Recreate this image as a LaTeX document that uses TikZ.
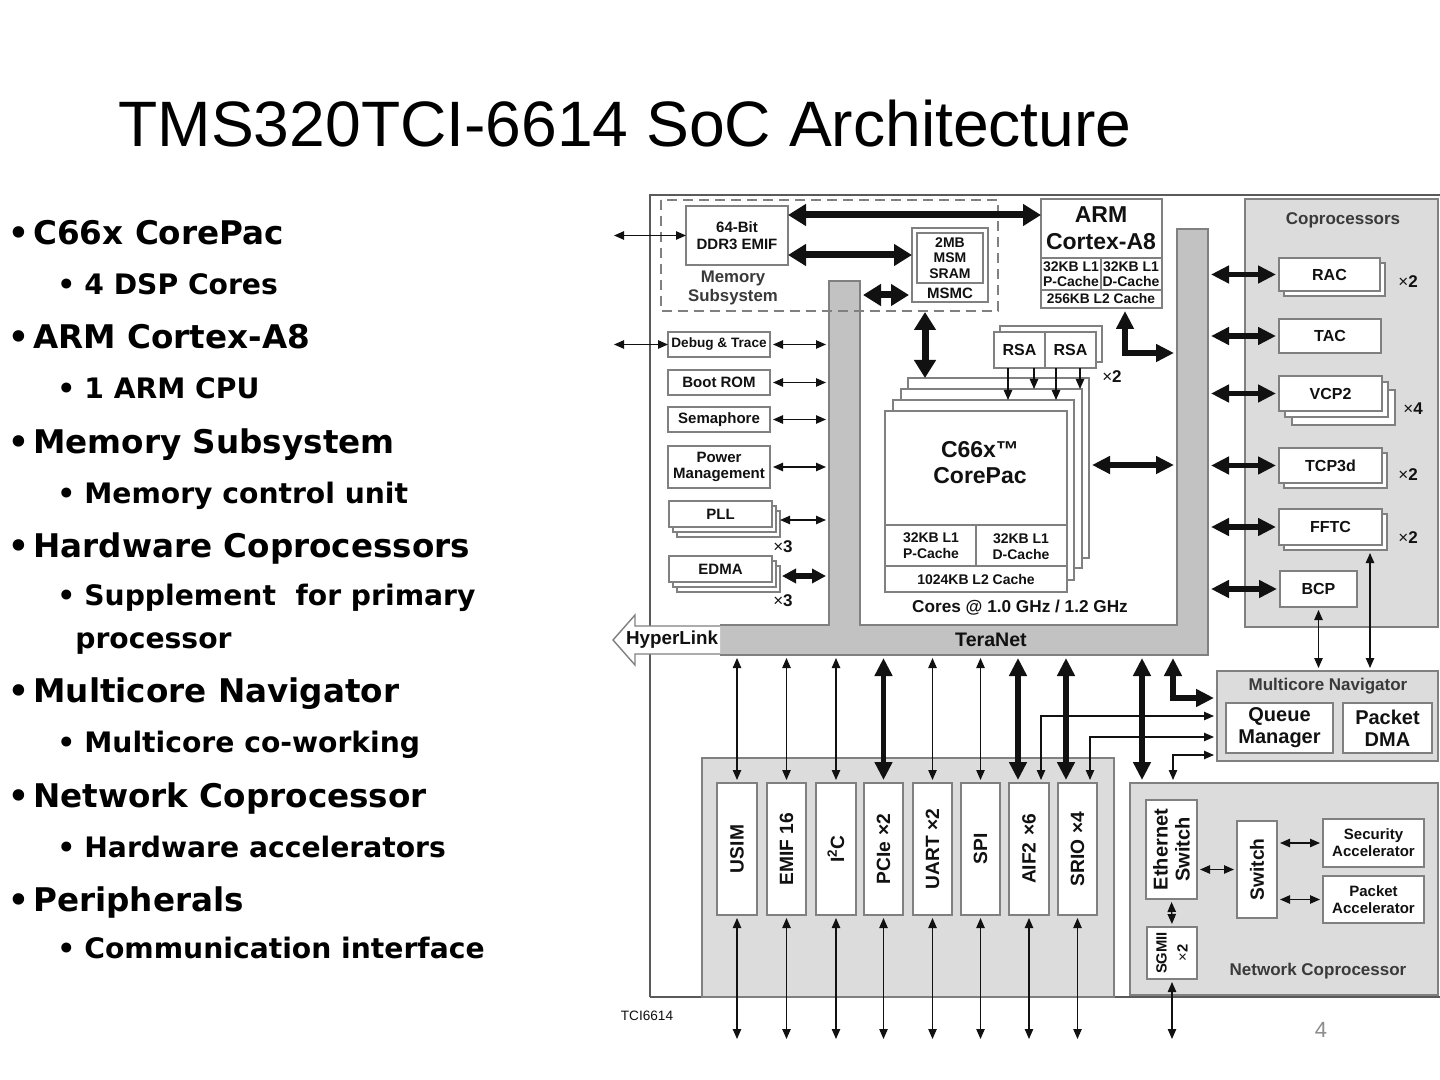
\documentclass[tikz,border=0pt]{standalone}
\usepackage{fontspec}
\setmainfont{Liberation Sans}
\setsansfont{Liberation Sans}
\newfontfamily\bulletfont{DejaVu Sans}
\usetikzlibrary{arrows.meta}
\definecolor{panel}{HTML}{DCDCDC}
\definecolor{tnet}{HTML}{C2C2C2}
\definecolor{edge}{HTML}{808080}
\definecolor{frame}{HTML}{5A5A5A}
\definecolor{ink}{HTML}{111111}
\definecolor{plab}{HTML}{3A3A3A}
\definecolor{pnum}{HTML}{8C8C8C}
\newcommand\fsz[2]{\fontsize{#1}{#2}\selectfont}
\newcommand\bxx[7][]{\node[box,minimum width={(#4-#2)*0.5pt},minimum height={(#5-#3)*0.5pt},#1] (#6) at ({(#2+#4)/2},{(#3+#5)/2}) {#7};}
\newcommand\shd[4]{\draw[shadowbox] (#1,#2) rectangle (#3,#4);}
\tikzset{
 box/.style={draw=edge,fill=white,line width=0.6pt,inner sep=0pt,outer sep=0pt,align=center,text=ink,font=\sffamily\bfseries\fsz{7.5}{8.5}},
 shadowbox/.style={draw=edge,fill=white,line width=0.6pt},
 pbox/.style={draw=edge,fill=panel,line width=0.7pt},
 lab/.style={inner sep=0pt,align=center,text=ink,font=\sffamily\bfseries\fsz{7.5}{8.5}},
 plabel/.style={inner sep=0pt,align=center,text=plab,font=\sffamily\bfseries\fsz{8.5}{9.5}},
 mult/.style={inner sep=0pt,text=ink,font=\sffamily\bfseries\fsz{8.5}{10}},
 rot/.style={inner sep=0pt,align=center,text=ink,rotate=90,font=\sffamily\bfseries\fsz{9.6}{11}},
 tarr/.style={draw=ink,line width=0.6pt,{Triangle[length=5pt,width=4.2pt]}-{Triangle[length=5pt,width=4.2pt]}},
 sarr/.style={draw=ink,line width=0.6pt,-{Triangle[length=5pt,width=4.2pt]}},
 barr/.style={draw=ink,line width=2.6pt,{Triangle[length=9pt,width=8.5pt]}-{Triangle[length=9pt,width=8.5pt]}},
 harr/.style={draw=ink,line width=3.5pt,{Triangle[length=9pt,width=10.5pt]}-{Triangle[length=9pt,width=10.5pt]}},
 gap/.style={shorten <=1.5pt,shorten >=1.5pt},
 lone/.style={anchor=base west,inner sep=0pt,text=black,font=\bulletfont\bfseries\fsz{16.3}{19}},
 ltwo/.style={anchor=base west,inner sep=0pt,text=black,font=\bulletfont\bfseries\fsz{14.1}{17}},
}
\begin{document}
\begin{tikzpicture}[x=0.5pt,y=-0.5pt]
\useasboundingbox (0,0) rectangle (1440,1080);
\fill[white] (0,0) rectangle (1440,1080);
% ---------- title and bullets
\node[anchor=base west,inner sep=0pt,font=\fsz{32.1}{39}] (title) at (118,147) {TMS320TCI-6614 SoC Architecture};
\node[lone] (b1) at (8,245) {\makebox[12.5pt][l]{•}C66x CorePac};
\node[ltwo] (b1a) at (57,295) {\makebox[13.5pt][l]{•}4 DSP Cores};
\node[lone] (b2) at (8,349) {\makebox[12.5pt][l]{•}ARM Cortex-A8};
\node[ltwo] (b2a) at (57,399) {\makebox[13.5pt][l]{•}1 ARM CPU};
\node[lone] (b3) at (8,453) {\makebox[12.5pt][l]{•}Memory Subsystem};
\node[ltwo] (b3a) at (57,503) {\makebox[13.5pt][l]{•}Memory control unit};
\node[lone] (b4) at (8,557) {\makebox[12.5pt][l]{•}Hardware Coprocessors};
\node[ltwo] (b4a) at (57,605) {\makebox[13.5pt][l]{•}Supplement\ \ for primary};
\node[ltwo] (b4b) at (75,648) {processor};
\node[lone] (b5) at (8,702) {\makebox[12.5pt][l]{•}Multicore Navigator};
\node[ltwo] (b5a) at (57,752) {\makebox[13.5pt][l]{•}Multicore co-working};
\node[lone] (b6) at (8,807) {\makebox[12.5pt][l]{•}Network Coprocessor};
\node[ltwo] (b6a) at (57,857) {\makebox[13.5pt][l]{•}Hardware accelerators};
\node[lone] (b7) at (8,911) {\makebox[12.5pt][l]{•}Peripherals};
\node[ltwo] (b7a) at (57,958) {\makebox[13.5pt][l]{•}Communication interface};
% ---------- frame and panels
\draw[frame,line width=0.7pt] (650,997) -- (650,195) -- (1460,195);
\draw[frame,line width=0.7pt] (650,997) -- (1460,997);
\draw[pbox] (1245,199) rectangle (1438,627);
\draw[pbox] (702,758) rectangle (1114,997);
\draw[pbox] (1130,783) rectangle (1438,995);
\node[draw=edge,fill=panel,line width=0.7pt,inner sep=0pt,outer sep=0pt,minimum width={221*0.5pt},minimum height={90*0.5pt}] (mn) at (1327.5,716) {};
\node[plabel] (coplab) at (1343,220) {Coprocessors};
\node[plabel] (mnlab) at (1328,686) {Multicore Navigator};
\node[plabel] (nclab) at (1318,971) {Network Coprocessor};
% ---------- TeraNet
\fill[tnet] (720,625) -- (829,625) -- (829,281) -- (860,281) -- (860,625) -- (1177,625) -- (1177,229) -- (1208,229) -- (1208,655) -- (720,655) -- cycle;
\draw[edge,line width=0.6pt] (720,625) -- (829,625) -- (829,281) -- (860,281) -- (860,625) -- (1177,625) -- (1177,229) -- (1208,229) -- (1208,655) -- (720,655);
\bxx[draw=none,fill=none]{829}{281}{860}{625}{tnL}{}
\bxx[draw=none,fill=none]{720}{625}{1208}{655}{tnB}{}
\bxx[draw=none,fill=none]{1177}{229}{1208}{655}{tnR}{}
\node[lab,font=\sffamily\bfseries\fsz{9.8}{11}] (tnlab) at (991,640) {TeraNet};
\draw[edge,fill=white,line width=0.7pt] (720,626) -- (635,626) -- (635,615) -- (613,640) -- (635,665) -- (635,654) -- (720,654);
\node[lab,font=\sffamily\bfseries\fsz{9.4}{11}] (hyper) at (672,640) {HyperLink};
% ---------- memory subsystem
\draw[edge,line width=0.7pt,dash pattern=on 5pt off 3pt] (661,200) rectangle (998,311);
\bxx{686}{206}{788}{265}{ddr}{64-Bit\\DDR3 EMIF}
\node[plabel,font=\sffamily\bfseries\fsz{8.4}{9.5}] (memlab) at (733,288) {Memory\\Subsystem};
\bxx{912}{228}{988}{302}{msmc}{}
\bxx[font=\sffamily\bfseries\fsz{7}{7.8}]{917}{233}{983}{283}{msm}{2MB\\MSM\\SRAM}
\node[lab] (msmclab) at (950,293) {MSMC};
% ---------- ARM
\bxx{1041}{199}{1162}{308}{arm}{}
\draw[edge,line width=0.6pt] (1041,258) -- (1162,258) (1101,258) -- (1101,290) (1041,290) -- (1162,290);
\node[lab,font=\sffamily\bfseries\fsz{11.5}{13}] (armt) at (1101,215) {ARM};
\node[lab,font=\sffamily\bfseries\fsz{11.5}{13}] (armc) at (1101,242) {Cortex-A8};
\node[lab,font=\sffamily\bfseries\fsz{7}{7.5}] (armp) at (1071,274) {32KB L1\\P-Cache};
\node[lab,font=\sffamily\bfseries\fsz{7}{7.5}] (armd) at (1131,274) {32KB L1\\D-Cache};
\node[lab,font=\sffamily\bfseries\fsz{6.9}{7.5}] (arml2) at (1101,299) {256KB L2 Cache};
% ---------- left column
\bxx[font=\sffamily\bfseries\fsz{6.8}{8}]{668}{332}{770}{357}{dbg}{Debug \& Trace}
\bxx{668}{370}{770}{395}{boot}{Boot ROM}
\bxx{668}{407}{770}{432}{sem}{Semaphore}
\bxx[font=\sffamily\bfseries\fsz{7.5}{8}]{668}{446}{770}{488}{pwr}{Power\\Management}
\shd{677}{511}{780}{537}\shd{673}{506}{776}{532}
\bxx{669}{501}{772}{527}{pll}{PLL}
\shd{677}{566}{780}{592}\shd{673}{561}{776}{587}
\bxx{669}{556}{772}{582}{edma}{EDMA}
\node[mult] (pllx) at (783,547) {{\mdseries ×}3};
\node[mult] (edmx) at (783,601) {{\mdseries ×}3};
% ---------- cores
\shd{1000}{326}{1102}{362}
\bxx[font=\sffamily\bfseries\fsz{8}{9}]{994}{332}{1045}{368}{rsa1}{RSA}
\bxx[font=\sffamily\bfseries\fsz{8}{9}]{1045}{332}{1096}{368}{rsa2}{RSA}
\node[mult] (rsax) at (1112,377) {{\mdseries ×}2};
\bxx{908}{378}{1089}{558}{core4}{}
\bxx{901}{389}{1082}{568}{core3}{}
\bxx{893}{400}{1074}{580}{core2}{}
\bxx{885}{411}{1067}{592}{core}{}
\draw[edge,line width=0.6pt] (885,525) -- (1067,525) (976,525) -- (976,566) (885,566) -- (1067,566);
\node[lab,font=\sffamily\bfseries\fsz{11.5}{13}] (c66) at (980,450) {C66x™};
\node[lab,font=\sffamily\bfseries\fsz{11.5}{13}] (cpac) at (980,476) {CorePac};
\node[lab,font=\sffamily\bfseries\fsz{7}{8}] (cp) at (931,546) {32KB L1\\P-Cache};
\node[lab,font=\sffamily\bfseries\fsz{7}{8}] (cd) at (1021,547) {32KB L1\\D-Cache};
\node[lab,font=\sffamily\bfseries\fsz{7}{8}] (cl2) at (976,579) {1024KB L2 Cache};
\node[lab,font=\sffamily\bfseries\fsz{8.6}{10}] (cores) at (1020,608) {Cores @ 1.0 GHz / 1.2 GHz};
% ---------- coprocessors
\shd{1284}{263}{1385}{296}
\bxx[font=\sffamily\bfseries\fsz{8}{9}]{1279}{258}{1380}{291}{rac}{RAC}
\bxx[font=\sffamily\bfseries\fsz{8}{9}]{1279}{319}{1381}{353}{tac}{TAC}
\shd{1292}{390}{1395}{425}\shd{1285}{382}{1388}{417}
\bxx[font=\sffamily\bfseries\fsz{8}{9}]{1279}{376}{1382}{411}{vcp}{VCP2}
\shd{1284}{453}{1387}{488}
\bxx[font=\sffamily\bfseries\fsz{8}{9}]{1279}{448}{1382}{483}{tcp}{TCP3d}
\shd{1284}{514}{1387}{550}
\bxx[font=\sffamily\bfseries\fsz{8}{9}]{1279}{509}{1382}{545}{fftc}{FFTC}
\bxx[font=\sffamily\bfseries\fsz{8}{9}]{1280}{571}{1357}{607}{bcp}{BCP}
\node[mult] (racx) at (1408,282) {{\mdseries ×}2};
\node[mult] (vcpx) at (1413,409) {{\mdseries ×}4};
\node[mult] (tcpx) at (1408,475) {{\mdseries ×}2};
\node[mult] (ffx) at (1408,538) {{\mdseries ×}2};
% ---------- multicore navigator
\bxx[font=\sffamily\bfseries\fsz{10}{11}]{1226}{703}{1333}{753}{qm}{Queue\\Manager}
\bxx[font=\sffamily\bfseries\fsz{10}{11}]{1343}{703}{1432}{753}{pdma}{Packet\\DMA}
% ---------- peripherals
\bxx{717}{783}{757}{915}{usim}{}
\bxx{767}{783}{806}{915}{emif}{}
\bxx{816}{783}{856}{915}{i2c}{}
\bxx{864}{783}{903}{915}{pcie}{}
\bxx{913}{783}{952}{915}{uart}{}
\bxx{961}{783}{1000}{915}{spi}{}
\bxx{1009}{783}{1049}{915}{aif}{}
\bxx{1058}{783}{1097}{915}{srio}{}
\node[rot] (usimt) at (usim) {USIM};
\node[rot] (emift) at (emif) {EMIF 16};
\node[rot] (i2ct) at (i2c) {I\textsuperscript{2}C};
\node[rot] (pciet) at (pcie) {PCIe\,\,×2};
\node[rot] (uartt) at (uart) {UART ×2};
\node[rot] (spit) at (spi) {SPI};
\node[rot] (aift) at (aif) {AIF2\,\,×6};
\node[rot] (sriot) at (srio) {SRIO\,\,×4};
% ---------- network coprocessor
\bxx{1146}{800}{1197}{899}{eth}{}
\bxx{1147}{927}{1197}{979}{sgmii}{}
\bxx{1237}{821}{1277}{918}{sw}{}
\bxx{1323}{819}{1424}{867}{sec}{Security\\Accelerator}
\bxx{1323}{876}{1424}{923}{pa}{Packet\\Accelerator}
\node[rot,font=\sffamily\bfseries\fsz{10}{11}] (etht) at (eth) {Ethernet\\Switch};
\node[rot,font=\sffamily\bfseries\fsz{7.4}{10.5}] (sgt) at (sgmii) {SGMII\\{\mdseries ×}2};
\node[rot] (swt) at (sw) {Switch};
% ---------- arrows: memory
\coordinate (ddrX) at (614,235.5);
\draw[tarr] (ddrX) -- (ddr.west);
\coordinate (ddrT) at (788,215);
\draw[harr] (ddrT) -- (ddrT -| arm.west);
\coordinate (ddrM) at (788,255);
\draw[harr] (ddrM) -- (ddrM -| msmc.west);
\coordinate (msL) at (860,295);
\draw[harr,gap] (msL) -- (msL -| msmc.west);
\coordinate (mcB) at (925,302);
\draw[harr,shorten <=5pt] (mcB) -- (mcB |- core4.north);
% ---------- arrows: left column
\coordinate (dbgX) at (614,344.5);
\draw[tarr] (dbgX) -- (dbg.west);
\foreach \b in {dbg,boot,sem,pwr} \draw[tarr,gap] (\b.east) -- (\b.east -| tnL.west);
\coordinate (pllR) at (777,520);
\draw[tarr,gap] (pllR) -- (pllR -| tnL.west);
\coordinate (edmR) at (779,576);
\draw[barr,gap,{Triangle[length=7pt,width=7pt]}-{Triangle[length=7pt,width=7pt]}] (edmR) -- (edmR -| tnL.west);
% ---------- arrows: cores, ARM, RSA
\coordinate (coreY) at (1089,465);
\draw[barr,gap] (coreY) -- (coreY -| tnR.west);
\coordinate (armB) at (1125,308);
\coordinate (armC) at (1125,353);
\draw[barr,gap] (armB) -- (armC) -- (armC -| tnR.west);
\coordinate (r1) at (1008,368);
\coordinate (r2) at (1034,368);
\coordinate (r3) at (1056,368);
\coordinate (r4) at (1080,368);
\draw[sarr] (r1) -- (r1 |- core2.north);
\draw[sarr] (r2) -- (r2 |- core3.north);
\draw[sarr] (r3) -- (r3 |- core2.north);
\draw[sarr] (r4) -- (r4 |- core3.north);
% ---------- arrows: coprocessors
\foreach \c in {rac,tac,vcp,tcp,fftc,bcp} \draw[barr,gap] (\c.west -| tnR.east) -- (\c.west);
\draw[tarr,gap] (bcp.south) -- (bcp.south |- mn.north);
\coordinate (ffB) at (1370,550);
\draw[tarr,gap] (ffB) -- (ffB |- mn.north);
% ---------- arrows: peripherals
\foreach \p in {usim,emif,i2c,uart,spi} \draw[tarr,gap] (\p.north |- tnB.south) -- (\p.north);
\draw[barr,gap] (pcie.north |- tnB.south) -- (pcie.north);
\coordinate (aifT) at (1018,783);
\draw[barr,gap] (aifT |- tnB.south) -- (aifT);
\coordinate (srioT) at (1066,783);
\draw[barr,gap] (srioT |- tnB.south) -- (srioT);
\coordinate (botY) at (0,1042);
\foreach \p in {usim,emif,i2c,pcie,uart,spi,aif,srio,sgmii} \draw[tarr,gap] (\p.south) -- (\p.south |- botY);
% ---------- arrows: navigator and network
\coordinate (mnA) at (1217,716);
\coordinate (aifN) at (1041,783);
\draw[tarr,gap] (mnA) -| (aifN);
\coordinate (mnB) at (1217,737);
\coordinate (srioN) at (1090,783);
\draw[tarr,gap] (mnB) -| (srioN);
\coordinate (mnC) at (1217,755);
\coordinate (ncT) at (1173,783);
\draw[tarr,gap] (mnC) -| (ncT);
\coordinate (ncA) at (1142,783);
\draw[barr,gap] (ncA |- tnB.south) -- (ncA);
\coordinate (mnT) at (1217,698);
\coordinate (tnC) at (1173,655);
\draw[barr,gap] (tnC) |- (mnT);
\draw[tarr,gap] (eth.south) -- (sgmii.north);
\draw[tarr,gap] (eth.east |- sw.west) -- (sw.west);
\draw[tarr,gap] (sw.east |- sec.west) -- (sec.west);
\draw[tarr,gap] (sw.east |- pa.west) -- (pa.west);
% ---------- footer
\node[inner sep=0pt,text=ink,font=\fsz{6.8}{8}] (tci) at (647,1016) {TCI6614};
\node[inner sep=0pt,text=pnum,font=\fsz{11}{13}] (pg) at (1321,1030) {4};
\end{tikzpicture}
\end{document}
